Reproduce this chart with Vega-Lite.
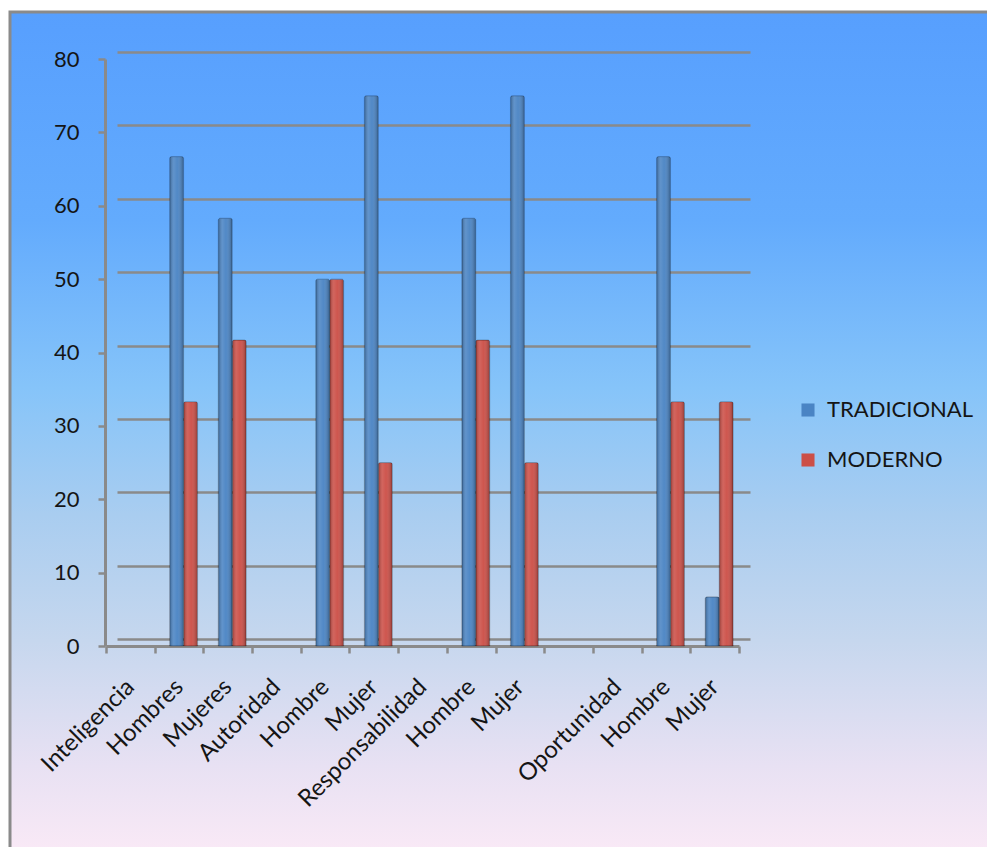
{
  "$schema": "https://vega.github.io/schema/vega-lite/v6.json",
  "width": 980,
  "height": 838,
  "autosize": {"type": "none"},
  "padding": {"left": 10, "top": 12, "right": -3, "bottom": -3},
  "background": "white",
  "config": {
    "view": {
      "fill": {
        "gradient": "linear", "x1": 0, "y1": 0, "x2": 0, "y2": 1,
        "stops": [
          {"offset": 0, "color": "#579ffe"},
          {"offset": 0.25, "color": "#63abfd"},
          {"offset": 0.45, "color": "#86c4f9"},
          {"offset": 0.6, "color": "#a9cdf0"},
          {"offset": 0.75, "color": "#c6d7ee"},
          {"offset": 0.9, "color": "#e8e1f3"},
          {"offset": 1, "color": "#f9e9f6"}
        ]
      },
      "stroke": "#8a8a8a",
      "strokeWidth": 3
    },
    "font": "Lato",
    "axis": {"labelFont": "Lato", "labelColor": "#151515"},
    "legend": {"labelFont": "Lato", "labelColor": "#151515"}
  },
  "data": {
    "values": [
      {"cat": "Hombres", "serie": "TRADICIONAL", "valor": 66.7},
      {"cat": "Hombres", "serie": "MODERNO", "valor": 33.3},
      {"cat": "Mujeres", "serie": "TRADICIONAL", "valor": 58.3},
      {"cat": "Mujeres", "serie": "MODERNO", "valor": 41.7},
      {"cat": "Hombre (Autoridad)", "serie": "TRADICIONAL", "valor": 50},
      {"cat": "Hombre (Autoridad)", "serie": "MODERNO", "valor": 50},
      {"cat": "Mujer (Autoridad)", "serie": "TRADICIONAL", "valor": 75},
      {"cat": "Mujer (Autoridad)", "serie": "MODERNO", "valor": 25},
      {"cat": "Hombre (Responsabilidad)", "serie": "TRADICIONAL", "valor": 58.3},
      {"cat": "Hombre (Responsabilidad)", "serie": "MODERNO", "valor": 41.7},
      {"cat": "Mujer (Responsabilidad)", "serie": "TRADICIONAL", "valor": 75},
      {"cat": "Mujer (Responsabilidad)", "serie": "MODERNO", "valor": 25},
      {"cat": "Hombre (Oportunidad)", "serie": "TRADICIONAL", "valor": 66.7},
      {"cat": "Hombre (Oportunidad)", "serie": "MODERNO", "valor": 33.3},
      {"cat": "Mujer (Oportunidad)", "serie": "TRADICIONAL", "valor": 6.7},
      {"cat": "Mujer (Oportunidad)", "serie": "MODERNO", "valor": 33.3}
    ]
  },
  "layer": [
    {
      "mark": {"type": "point", "opacity": 0},
      "encoding": {
        "x": {
          "field": "cat",
          "type": "nominal",
          "sort": null,
          "scale": {
            "domain": ["Inteligencia", "Hombres", "Mujeres", "Autoridad", "Hombre (Autoridad)", "Mujer (Autoridad)", "Responsabilidad", "Hombre (Responsabilidad)", "Mujer (Responsabilidad)", "vacío", "Oportunidad", "Hombre (Oportunidad)", "Mujer (Oportunidad)"],
            "range": [107, 740],
            "paddingInner": 0,
            "paddingOuter": 0
          },
          "axis": null
        },
        "y": {
          "field": "valor",
          "type": "quantitative",
          "scale": {"domain": [0, 80], "range": [627, 40], "nice": false},
          "axis": {
            "orient": "left",
            "title": null,
            "values": [0, 10, 20, 30, 40, 50, 60, 70, 80],
            "grid": true,
            "gridColor": "#8a8a8a",
            "gridWidth": 2.5,
            "domain": false,
            "ticks": false,
            "labels": false
          }
        }
      }
    },
    {
      "encoding": {
        "x": {
          "field": "cat",
          "type": "nominal",
          "sort": null,
          "scale": {
            "domain": ["Inteligencia", "Hombres", "Mujeres", "Autoridad", "Hombre (Autoridad)", "Mujer (Autoridad)", "Responsabilidad", "Hombre (Responsabilidad)", "Mujer (Responsabilidad)", "vacío", "Oportunidad", "Hombre (Oportunidad)", "Mujer (Oportunidad)"],
            "range": [96, 729],
            "paddingInner": 0,
            "paddingOuter": 0
          },
          "axis": {
            "orient": "bottom",
            "offset": -204,
            "title": null,
            "tickBand": "extent",
            "tickSize": 7,
            "tickColor": "#8a8a8a",
            "tickWidth": 2.5,
            "domainColor": "#8a8a8a",
            "domainWidth": 3,
            "grid": false,
            "labelAngle": -45,
            "labelAlign": "right",
            "labelBaseline": "middle",
            "labelFontSize": 24,
            "labelPadding": 30,
            "labelOverlap": false,
            "labelExpr": "isValid(datum.value) && datum.value != 'vacío' ? split(datum.value, ' (')[0] : ''"
          }
        },
        "xOffset": {
          "field": "serie",
          "type": "nominal",
          "scale": {"domain": ["TRADICIONAL", "MODERNO"], "paddingInner": 0, "paddingOuter": 0.74, "align": 0.72}
        },
        "y": {
          "field": "valor",
          "type": "quantitative",
          "scale": {"domain": [0, 80], "range": [634, 47], "nice": false},
          "axis": {
            "orient": "left",
            "offset": -95,
            "title": null,
            "values": [0, 10, 20, 30, 40, 50, 60, 70, 80],
            "tickSize": 7,
            "tickColor": "#8a8a8a",
            "tickWidth": 2.5,
            "domainColor": "#8a8a8a",
            "domainWidth": 3,
            "grid": false,
            "labelFontSize": 22,
            "labelPadding": 19
          }
        }
      },
      "layer": [
        {
          "mark": {"type": "bar", "cornerRadiusEnd": 2},
          "encoding": {
            "color": {
              "field": "serie",
              "type": "nominal",
              "scale": {"domain": ["TRADICIONAL", "MODERNO"], "range": ["#4a84c4", "#cc4f47"]},
              "legend": {
                "orient": "none",
                "legendX": 787,
                "legendY": 387,
                "title": null,
                "symbolType": "square",
                "symbolSize": 170,
                "symbolStrokeWidth": 0,
                "labelFontSize": 22,
                "labelOffset": 8,
                "rowPadding": 28
              }
            }
          }
        },
        {
          "mark": {
            "type": "bar",
            "cornerRadiusEnd": 2,
            "stroke": "rgba(0,0,0,0.22)",
            "strokeWidth": 1,
            "color": {
              "gradient": "linear", "x1": 0, "y1": 0, "x2": 1, "y2": 0,
              "stops": [
                {"offset": 0, "color": "rgba(0,0,0,0.28)"},
                {"offset": 0.3, "color": "rgba(255,255,255,0.12)"},
                {"offset": 0.55, "color": "rgba(255,255,255,0.04)"},
                {"offset": 1, "color": "rgba(0,0,0,0.3)"}
              ]
            }
          }
        }
      ]
    }
  ],
  "resolve": {"scale": {"x": "independent", "y": "independent"}}
}
